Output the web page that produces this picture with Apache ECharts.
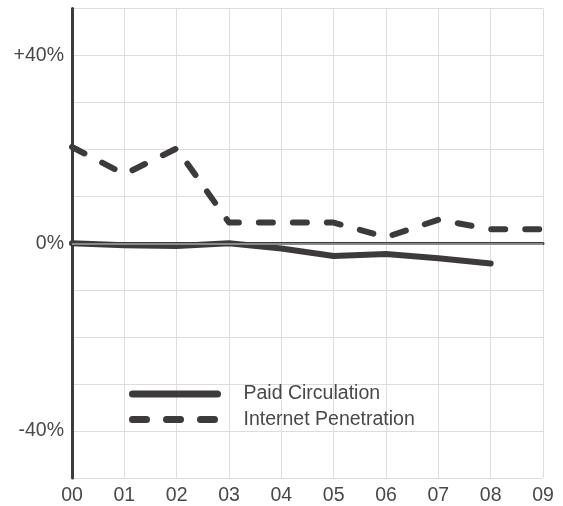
<!DOCTYPE html>
<html>
<head>
<meta charset="utf-8">
<script src="https://cdn.jsdelivr.net/npm/echarts@6/dist/echarts.min.js"></script>
<style>html,body{margin:0;padding:0;background:#fff;}#c{width:563px;height:506px;}</style>
</head>
<body>
<div id="c"></div>
<script>
var years = ['00','01','02','03','04','05','06','07','08','09'];
var paidCirculation = [0, -0.4, -0.6, 0, -1.1, -2.7, -2.3, -3.2, -4.3, null];
var internetPenetration = [20.5, 14.7, 20.2, 4.4, 4.4, 4.4, 1.3, 5.0, 3.0, 3.0];
var yTickLabels = {'40': '+40%', '0': '0%', '-40': '-40%'};

var dark = '#3d3a3b';
var font = '"Liberation Sans", Arial, sans-serif';
var chart = echarts.init(document.getElementById('c'));
chart.setOption({
  animation: false,
  grid: {left: 72, right: 20, top: 8.5, bottom: 27.5, containLabel: false},
  legend: {
    orient: 'vertical', left: 129, top: 384, padding: 0,
    itemWidth: 85, itemHeight: 20, itemGap: 5.5,
    itemStyle: {opacity: 0},
    lineStyle: {width: 7, cap: 'round'},
    textStyle: {fontFamily: font, fontSize: 19.5, color: '#484848', padding: [0, 0, 0, 21]},
    data: ['Paid Circulation', 'Internet Penetration']
  },
  xAxis: {
    type: 'category', data: years, boundaryGap: false,
    axisLine: {lineStyle: {color: dark, width: 3}},
    axisTick: {show: false},
    axisLabel: {fontFamily: font, fontSize: 19.5, color: '#484848', margin: 8},
    splitLine: {show: true, lineStyle: {color: '#ddd', width: 1}}
  },
  yAxis: {
    type: 'value', min: -50, max: 50, interval: 10,
    axisLine: {show: true, lineStyle: {color: dark, width: 3}},
    axisTick: {show: false},
    axisLabel: {fontFamily: font, fontSize: 19.5, color: '#484848', margin: 8,
      formatter: function (v) { return yTickLabels[String(v)] || ''; }},
    splitLine: {show: true, lineStyle: {color: '#ddd', width: 1}}
  },
  series: [
    {
      name: 'zero', type: 'line', data: [], z: 1, silent: true,
      markLine: {symbol: 'none', silent: true, label: {show: false},
        lineStyle: {color: '#8a8a8a', width: 2, type: 'solid'}, data: [{yAxis: 0}]}
    },
    {
      name: 'Paid Circulation', type: 'line', data: paidCirculation, z: 3,
      symbol: 'none', showSymbol: false,
      lineStyle: {color: dark, width: 6, cap: 'round', join: 'round'},
      itemStyle: {color: dark}
    },
    {
      name: 'Internet Penetration', type: 'line', data: internetPenetration, z: 3,
      symbol: 'none', showSymbol: false,
      lineStyle: {color: dark, width: 6, type: [14, 20], cap: 'round', join: 'round'},
      itemStyle: {color: dark}
    }
  ]
});
</script>
</body>
</html>
